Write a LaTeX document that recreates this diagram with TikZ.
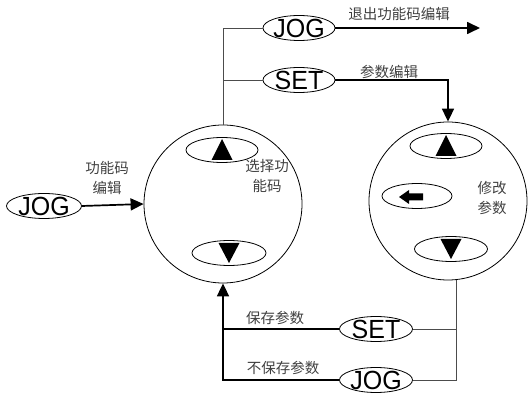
\documentclass[tikz,border=0pt]{standalone}
\usepackage{fontspec}
\setmainfont{Liberation Sans}
\newfontfamily\cjk{Noto Sans CJK SC}
\usetikzlibrary{shapes.geometric,arrows.meta,calc}
\begin{document}
\begin{tikzpicture}[x=1pt, y=1pt,
    thinline/.style={line width=0.8pt, draw=black!70},
    thickline/.style={line width=1.7pt, -{Triangle[length=13pt,width=12pt]}},
    keyoval/.style={ellipse, draw, line width=0.8pt, inner sep=0pt, minimum width=#1, minimum height=25pt},
    keylabel/.style={font=\fontsize{25}{25}\selectfont, inner sep=0pt, yscale=1.05},
    btnoval/.style={ellipse, draw, line width=0.8pt, inner sep=0pt, minimum width=72pt, minimum height=25pt},
    menu/.style={circle, draw, line width=0.8pt, inner sep=0pt, minimum size=158pt},
    note/.style={font=\cjk\fontsize{14.5}{20}\selectfont, text=black!75, align=center, inner sep=0pt}]
    \useasboundingbox (0,0) rectangle (531,394);

    % the two menus
    \node[menu, name=sel] at (223,190) {};
    \node[note] at (267,218) {选择功\\能码};
    \node[menu, name=mod] at (448,193) {};
    \node[note] at (492,196) {修改\\参数};

    % buttons inside the menus
    \node[btnoval, name=up1] at (222,244) {};
    \fill ([shift={(-10.5,-10)}]up1.center) -- ++(21,0) -- ++(-10.5,21) -- cycle;
    \node[btnoval, minimum width=74pt, name=dn1] at (229,141) {};
    \fill ([shift={(-10.5,10)}]dn1.center) -- ++(21,0) -- ++(-10.5,-20) -- cycle;

    \node[btnoval, name=up2] at (446,248) {};
    \fill ([shift={(-10.5,-10)}]up2.center) -- ++(21,0) -- ++(-10.5,21) -- cycle;
    \node[btnoval, minimum width=70pt, name=lf2] at (417,198) {};
    \fill ([shift={(-18,-1)}]lf2.center) -- ++(10,7) -- ++(0,-3.5) -- ++(14,0) -- ++(0,-7) -- ++(-14,0) -- ++(0,-3.5) -- cycle;
    \node[btnoval, minimum width=73pt, name=dn2] at (451,145) {};
    \fill ([shift={(-10.5,10)}]dn2.center) -- ++(21,0) -- ++(-10.5,-20) -- cycle;

    % keys
    \node[keyoval=75pt, label={[keylabel]center:JOG}, name=jogL] at (44,188) {};
    \node[keyoval=72pt, label={[keylabel]center:JOG}, name=jogT] at (299,366) {};
    \node[keyoval=72pt, label={[keylabel]center:SET}, name=setT] at (299,314) {};
    \node[keyoval=73pt, label={[keylabel]center:SET}, name=setB] at (376,65) {};
    \node[keyoval=73pt, label={[keylabel]center:JOG}, name=jogB] at (376,14) {};
    \coordinate (exit) at (480,366);

    % connectors
    \draw[thickline] (jogL.east) -- (sel.west);
    \node[note] at (107,216) {功能码\\编辑};

    \draw[thinline] (sel.north) |- (jogT.west);
    \draw[thinline] (sel.north |- setT.west) -- (setT.west);
    \draw[thickline] (jogT.east) -- (exit);
    \node[note] at (399,380) {退出功能码编辑};
    \draw[thickline] (setT.east) -| (mod.north);
    \node[note] at (389,322) {参数编辑};

    \draw[thinline] (mod.-84) |- (jogB.east);
    \draw[thinline] (setB.east) -- (setB.east -| mod.-84);
    \draw[thickline] (jogB.west) -| (sel.south);
    \draw[line width=1.7pt] (setB.west) -- (setB.west -| sel.south);
    \node[note] at (275,76) {保存参数};
    \node[note] at (283,26) {不保存参数};
\end{tikzpicture}
\end{document}
